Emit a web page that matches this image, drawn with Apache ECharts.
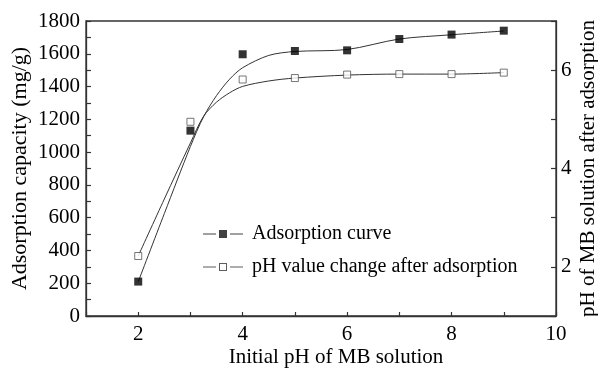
<!DOCTYPE html>
<html>
<head>
<meta charset="utf-8">
<script src="https://cdn.jsdelivr.net/npm/echarts@6/dist/echarts.min.js"></script>
<style>
  html, body { margin: 0; padding: 0; background: #fff; }
  #chart { width: 598px; height: 374px; }
</style>
</head>
<body>
<div id="chart"></div>
<script>
// Measured points: initial pH of the MB solution
const initialPH = [2, 3, 4, 5, 6, 7, 8, 9];
// Adsorption capacity (mg/g) at each initial pH
const adsorption = [210, 1131, 1597, 1617, 1621, 1690, 1717, 1741];
// Solution pH after adsorption
const phAfter = [2.22, 4.95, 5.81, 5.84, 5.91, 5.92, 5.92, 5.95];

// Fitted curves, sampled along the initial pH axis
const fitPH = [2, 2.5, 3, 3.25, 3.5, 3.75, 4, 4.5, 5, 6, 7, 8, 9];
const adsorptionFit = [209, 625, 1035, 1215, 1345, 1445, 1515, 1590, 1614, 1626, 1690, 1716, 1739];
const phAfterFit = [2.22, 3.38, 4.52, 5.06, 5.35, 5.54, 5.67, 5.78, 5.84, 5.90, 5.92, 5.92, 5.95];

// Axis tick labels
const xTickLabels = ['2', '4', '6', '8', '10'];
const leftTickLabels = ['0', '200', '400', '600', '800', '1000', '1200', '1400', '1600', '1800'];
const rightTickLabels = ['2', '4', '6'];

const seriesNames = ['Adsorption curve', 'pH value change after adsorption'];

const FONT = '"Liberation Serif", "Times New Roman", serif';
const INK = '#000';
const AXIS = '#333';

const pairs = (xs, ys) => xs.map((x, i) => [x, ys[i]]);
const pick = (list) => (v) => (list.indexOf(String(v)) >= 0 ? String(v) : '');

const chart = echarts.init(document.getElementById('chart'), null, { renderer: 'canvas' });

const axisLine = { show: true, lineStyle: { color: AXIS, width: 1.3 } };

chart.setOption({
  animation: false,
  backgroundColor: '#fff',
  textStyle: { fontFamily: FONT },
  grid: {
    left: 86, right: 42, top: 21, bottom: 58,
    outerBoundsMode: 'none',
    containLabel: false,
    show: true, borderColor: AXIS, borderWidth: 1.3
  },
  legend: {
    orient: 'vertical',
    left: 198, top: 219,
    itemWidth: 40, itemHeight: 8,
    itemGap: 13,
    textStyle: { fontFamily: FONT, fontSize: 20, color: INK, padding: [0, 0, 0, 4] },
    data: [
      {
        name: seriesNames[0],
        icon: 'path://M0,4.5h13v1h-13z M16,1h8v8h-8z M27,4.5h13v1h-13z',
        itemStyle: { color: '#111', borderWidth: 0 }
      },
      {
        name: seriesNames[1],
        icon: 'path://M0,4.5h13v1h-13z M16,1h8v8h-8z M17,2v6h6v-6z M27,4.5h13v1h-13z',
        itemStyle: { color: '#333', borderWidth: 0 }
      }
    ]
  },
  xAxis: {
    type: 'value',
    min: 1, max: 10, interval: 1,
    name: 'Initial pH of MB solution',
    nameLocation: 'middle',
    nameGap: 31,
    nameMoveOverlap: false,
    nameTextStyle: { fontFamily: FONT, fontSize: 21, color: INK, padding: [0, 0, 0, 30] },
    axisLine: axisLine,
    axisTick: { show: true, inside: true, length: 4, lineStyle: { color: AXIS, width: 1.2 } },
    axisLabel: { fontFamily: FONT, fontSize: 21, color: INK, margin: 8, formatter: pick(xTickLabels) },
    splitLine: { show: false }
  },
  yAxis: [
    {
      type: 'value',
      position: 'left',
      min: 0, max: 1800, interval: 200,
      name: 'Adsorption capacity (mg/g)',
      nameLocation: 'middle',
      nameGap: 55,
      nameMoveOverlap: false,
      nameTextStyle: { fontFamily: FONT, fontSize: 22, color: INK },
      axisLine: axisLine,
      axisTick: { show: true, inside: true, length: 5, lineStyle: { color: AXIS, width: 1.2 } },
      minorTick: { show: true, splitNumber: 2, length: 5, lineStyle: { color: AXIS, width: 1.2 } },
      axisLabel: { fontFamily: FONT, fontSize: 21, color: INK, margin: 6, formatter: pick(leftTickLabels) },
      splitLine: { show: false }
    },
    {
      type: 'value',
      position: 'right',
      min: 1, max: 7, interval: 1,
      name: 'pH of MB solution after adsorption',
      nameLocation: 'middle',
      nameRotate: 90,
      nameGap: 22,
      nameMoveOverlap: false,
      nameTextStyle: { fontFamily: FONT, fontSize: 21, color: INK },
      axisLine: axisLine,
      axisTick: { show: true, inside: true, length: 5, lineStyle: { color: AXIS, width: 1.2 } },
      axisLabel: { fontFamily: FONT, fontSize: 21, color: INK, margin: 5, formatter: pick(rightTickLabels) },
      splitLine: { show: false }
    }
  ],
  series: [
    {
      name: 'adsorption-fit',
      type: 'line',
      yAxisIndex: 0,
      data: pairs(fitPH, adsorptionFit),
      smooth: 0.3,
      showSymbol: false,
      lineStyle: { color: '#333', width: 1 },
      silent: true,
      z: 2
    },
    {
      name: 'ph-fit',
      type: 'line',
      yAxisIndex: 1,
      data: pairs(fitPH, phAfterFit),
      smooth: 0.3,
      showSymbol: false,
      lineStyle: { color: '#333', width: 1 },
      silent: true,
      z: 2
    },
    {
      name: seriesNames[0],
      type: 'scatter',
      yAxisIndex: 0,
      data: pairs(initialPH, adsorption),
      symbol: 'rect',
      symbolSize: 8,
      itemStyle: { color: '#000', borderWidth: 0 },
      z: 5
    },
    {
      name: seriesNames[1],
      type: 'scatter',
      yAxisIndex: 1,
      data: pairs(initialPH, phAfter),
      symbol: 'rect',
      symbolSize: 7,
      itemStyle: { color: '#fff', borderColor: '#555', borderWidth: 1 },
      z: 5
    }
  ]
});
</script>
</body>
</html>
